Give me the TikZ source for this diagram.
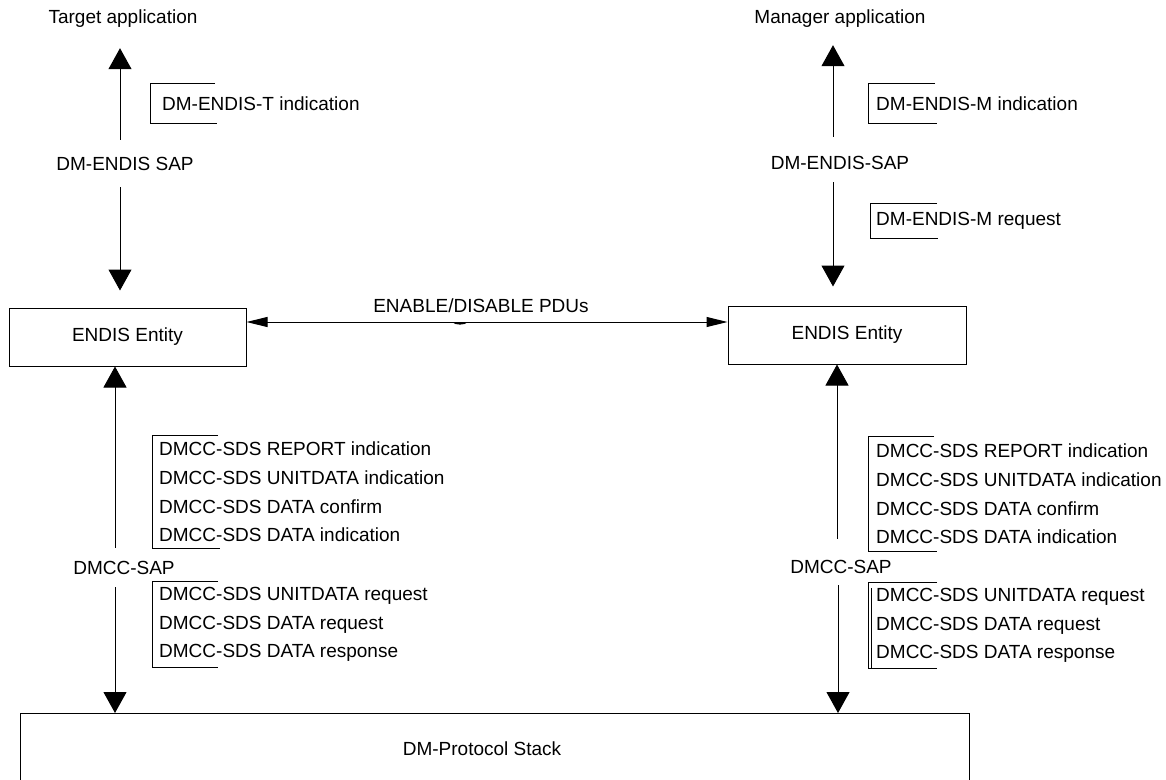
\documentclass[tikz,border=0pt]{standalone}
\usepackage{fontspec}
\setmainfont{Liberation Sans}
\usetikzlibrary{arrows.meta}
\begin{document}
\begin{tikzpicture}[x=1pt,y=-1pt,
  txt/.style={font=\fontsize{19}{28.7}\selectfont, inner sep=0pt},
  box/.style={draw, line width=1pt, inner sep=0pt, font=\fontsize{19}{23}\selectfont},
  conn/.style={line width=1pt},
  vtip/.style={-{Triangle[width=23pt,length=21pt]}},
  htip/.style={{Triangle[width=10pt,length=21pt]}-{Triangle[width=10pt,length=21pt]}},
  grp/.style={txt, align=left, anchor=west, inner ysep=0pt},
  brk/.style={line width=1pt}
]
\useasboundingbox (0,0) rectangle (1166,779);
\clip (0,0) rectangle (1166,779);

% application / SAP texts
\node[txt, minimum height=58] (tapp) at (123,19) {Target application};
\node[txt, minimum height=52] (mapp) at (840,19) {Manager application};
\node[txt, minimum height=47] (tsap) at (125,163.5) {DM-ENDIS SAP};
\node[txt, minimum height=38] (msap) at (840,163) {DM-ENDIS-SAP};

% entities
\node[box, minimum width=237, minimum height=58] (lent) at (127.5,337) {ENDIS Entity};
\node[box, minimum width=238, minimum height=58] (rent) at (847,335) {ENDIS Entity};

% DMCC SAPs
\node[txt, minimum height=39] (lsap) at (124,567.5) {DMCC-SAP};
\node[txt, minimum height=36] (rsap) at (841,567) {DMCC-SAP};

% protocol stack
\node[box, minimum width=949, minimum height=100, anchor=north west] (stack) at (20,713) {};
\node[txt] (stacklbl) at (482,749) {DM-Protocol Stack};

% vertical connectors, left
\draw[conn, vtip] ([xshift=-5]tsap.north) -- ([xshift=-3]tapp.south);
\draw[conn, vtip] ([xshift=-5]tsap.south) -- ([xshift=-7.5, yshift=17]lent.north);
\draw[conn, vtip] ([xshift=-9]lsap.north) -- ([xshift=-12.5]lent.south);
\draw[conn, vtip] ([xshift=-9]lsap.south) -- ([xshift=-9]lsap.south |- stack.north);

% vertical connectors, right
\draw[conn, vtip] ([xshift=-7, yshift=7]msap.north) -- ([xshift=-7]mapp.south);
\draw[conn, vtip] ([xshift=-7]msap.south) -- ([xshift=-14, yshift=19]rent.north);
\draw[conn, vtip] ([xshift=-4, yshift=10]rsap.north) -- ([xshift=-10]rent.south);
\draw[conn, vtip] ([xshift=-3]rsap.south) -- ([xshift=-3]rsap.south |- stack.north);

% horizontal PDU connector
\draw[conn, htip] ([yshift=15]lent.east) -- ([yshift=15]lent.east -| rent.west);
\node[txt] (pdus) at (481,306) {ENABLE/DISABLE PDUs};
\fill (452,322) .. controls (455,325.5) and (465,325.5) .. (468,322) -- cycle;

% primitive labels with brackets
\node[grp, inner xsep=12pt, minimum height=39] (g1) at (150,103.5) {DM-ENDIS-T indication};
\draw[brk] ([xshift=65]g1.north west) -- (g1.north west) -- (g1.south west) -- ([xshift=67]g1.south west);

\node[grp, inner xsep=8pt, minimum height=39] (g2) at (868,103.5) {DM-ENDIS-M indication};
\draw[brk] ([xshift=67]g2.north west) -- (g2.north west) -- (g2.south west) -- ([xshift=69]g2.south west);

\node[grp, inner xsep=6pt, minimum height=34] (g3) at (870,221) {DM-ENDIS-M request};
\draw[brk] ([xshift=67]g3.north west) -- (g3.north west) -- (g3.south west) -- ([xshift=68]g3.south west);

\node[grp, inner xsep=7pt, minimum height=112] (g4) at (152,492) {DMCC-SDS REPORT indication\\DMCC-SDS UNITDATA indication\\DMCC-SDS DATA confirm\\DMCC-SDS DATA indication};
\draw[brk] ([xshift=66]g4.north west) -- (g4.north west) -- (g4.south west) -- ([xshift=68]g4.south west);

\node[grp, inner xsep=7pt, minimum height=85] (g5) at (152,624.5) {DMCC-SDS UNITDATA request\\DMCC-SDS DATA request\\DMCC-SDS DATA response};
\draw[brk] ([xshift=66]g5.north west) -- (g5.north west) -- (g5.south west) -- ([xshift=66]g5.south west);

\node[grp, inner xsep=8pt, minimum height=114] (g6) at (868,494) {DMCC-SDS REPORT indication\\DMCC-SDS UNITDATA indication\\DMCC-SDS DATA confirm\\DMCC-SDS DATA indication};
\draw[brk] ([xshift=66]g6.north west) -- (g6.north west) -- (g6.south west) -- ([xshift=69]g6.south west);

\node[grp, inner xsep=8pt, minimum height=85] (g7) at (868,625.5) {DMCC-SDS UNITDATA request\\DMCC-SDS DATA request\\DMCC-SDS DATA response};
\draw[brk] ([xshift=69]g7.north west) -- (g7.north west) -- (g7.south west) -- ([xshift=69]g7.south west);
\draw[brk] ([xshift=3, yshift=-5]g7.north west) -- ([xshift=3]g7.south west);
\end{tikzpicture}
\end{document}
